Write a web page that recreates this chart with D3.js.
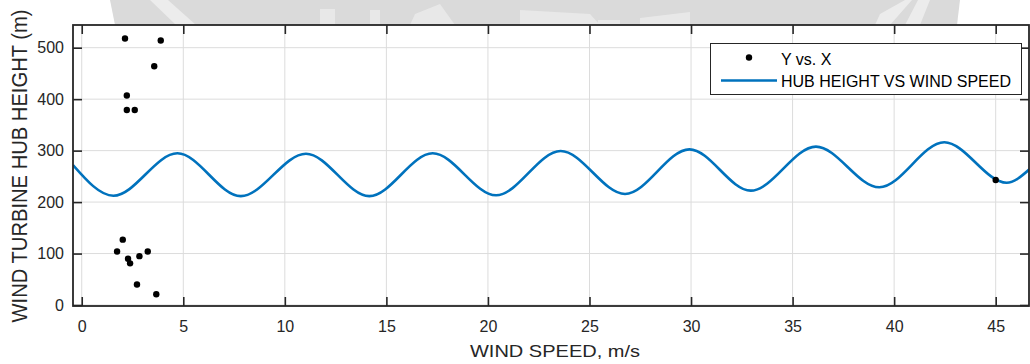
<!DOCTYPE html>
<html>
<head>
<meta charset="utf-8">
<script src="https://cdn.jsdelivr.net/npm/d3@7"></script>
<style>
  body { margin: 0; background: #fff; }
  svg { display: block; font-family: "Liberation Sans", Arial, sans-serif; }
</style>
</head>
<body>
<svg id="chart" width="1030" height="364"></svg>
<script>
// Scatter points (Y vs. X)
const scatterX = [2.13, 3.89, 3.57, 2.22, 2.22, 2.61, 2.02, 1.74, 3.25, 2.28, 2.38, 2.84, 2.72, 3.67, 45.0];
const scatterY = [518, 514, 464, 407, 379, 379, 127, 104, 104, 90, 81, 95, 40, 21, 243];

// Hub height curve, read at its peaks and troughs
const hubX = [-0.43, 1.56, 4.71, 7.83, 11.04, 14.16, 17.28, 20.40, 23.58, 26.75, 29.92, 32.94, 36.15, 39.27, 42.47, 45.54, 46.66];
const hubY = [272, 212.4, 294.8, 211.5, 294, 211.5, 294.8, 213.2, 299.3, 215.7, 302.5, 222.2, 307.7, 228.7, 316.2, 237.7, 263.7];

const xTicks = [0, 5, 10, 15, 20, 25, 30, 35, 40, 45];
const yTicks = [0, 100, 200, 300, 400, 500];
const legendLabels = ['Y vs. X', 'HUB HEIGHT VS WIND SPEED'];

const svg = d3.select('#chart');

// Plot box
const boxLeft = 73;
const boxRight = 1029;
const boxTop = 25;
const boxBottom = 306;

const x = d3.scaleLinear().domain([-0.43, 46.64]).range([boxLeft, boxRight]);
const y = d3.scaleLinear().domain([-1.9, 544.1]).range([boxBottom, boxTop]);

const axisColor = '#262626';
const lineColor = '#0072BD';

// Faint watermark showing above the axes
const mark = svg.append('g');
mark.append('path')
  .attr('d', 'M110,0 L960,0 L957,25 L115,25 Z')
  .attr('fill', '#dadada');
mark.append('path')
  .attr('d', 'M150,0 L168,0 L196,25 L176,25 Z')
  .attr('fill', '#ececec');
mark.append('path')
  .attr('d', 'M320,9 L335,9 L335,25 L320,25 Z M370,10 L380,10 L380,25 L370,25 Z M415,14 L440,4 L455,25 L410,25 Z')
  .attr('fill', '#e8e8e8');
mark.append('path')
  .attr('d', 'M520,10 L590,14 L600,25 L520,25 Z M598,20 L620,20 L620,25 L598,25 Z M640,18 L690,12 L690,25 L640,25 Z')
  .attr('fill', '#e8e8e8');
mark.append('path')
  .attr('d', 'M880,14 L905,0 L912,0 L890,25 L875,25 Z M918,0 L930,0 L920,25 L905,25 Z')
  .attr('fill', '#ececec');

// Axes background
svg.append('rect')
  .attr('x', boxLeft)
  .attr('y', boxTop)
  .attr('width', boxRight - boxLeft)
  .attr('height', boxBottom - boxTop)
  .attr('fill', '#fff');

// Grid
const grid = svg.append('g').attr('stroke', '#dcdcdc').attr('stroke-width', 1);
grid.selectAll('.gx').data(xTicks).join('line')
  .attr('x1', d => x(d)).attr('x2', d => x(d))
  .attr('y1', boxTop).attr('y2', boxBottom);
grid.selectAll('.gy').data(yTicks).join('line')
  .attr('x1', boxLeft).attr('x2', boxRight)
  .attr('y1', d => y(d)).attr('y2', d => y(d));

svg.append('clipPath').attr('id', 'clip')
  .append('rect')
  .attr('x', boxLeft).attr('y', boxTop)
  .attr('width', boxRight - boxLeft).attr('height', boxBottom - boxTop);

// Curve
const hub = hubX.map((d, i) => [d, hubY[i]]);
const line = d3.line()
  .x(d => x(d[0]))
  .y(d => y(d[1]))
  .curve(d3.curveMonotoneX);

svg.append('path')
  .datum(hub)
  .attr('clip-path', 'url(#clip)')
  .attr('fill', 'none')
  .attr('stroke', lineColor)
  .attr('stroke-width', 2.6)
  .attr('d', line);

// Points
svg.append('g').selectAll('circle')
  .data(scatterX.map((d, i) => [d, scatterY[i]]))
  .join('circle')
  .attr('cx', d => x(d[0]))
  .attr('cy', d => y(d[1]))
  .attr('r', 3.2)
  .attr('fill', '#000');

// Axes: ticks point inward on all four sides
const tickLen = 9;
const styleAxis = (g) => {
  g.select('.domain').remove();
  g.selectAll('.tick line').attr('stroke', axisColor).attr('stroke-width', 1.6);
  g.selectAll('.tick text')
    .attr('fill', axisColor)
    .attr('font-size', 16);
};

svg.append('g')
  .attr('transform', `translate(0,${boxBottom})`)
  .call(d3.axisBottom(x).tickValues(xTicks).tickSize(-tickLen).tickPadding(15))
  .call(styleAxis);

svg.append('g')
  .attr('transform', `translate(0,${boxTop})`)
  .call(d3.axisTop(x).tickValues(xTicks).tickSize(-tickLen).tickFormat(''))
  .call(styleAxis);

svg.append('g')
  .attr('transform', `translate(${boxLeft},0)`)
  .call(d3.axisLeft(y).tickValues(yTicks).tickSize(-tickLen).tickPadding(9))
  .call(styleAxis);

svg.append('g')
  .attr('transform', `translate(${boxRight},0)`)
  .call(d3.axisRight(y).tickValues(yTicks).tickSize(-tickLen).tickFormat(''))
  .call(styleAxis);

// Box
svg.append('rect')
  .attr('x', boxLeft).attr('y', boxTop)
  .attr('width', boxRight - boxLeft).attr('height', boxBottom - boxTop)
  .attr('fill', 'none')
  .attr('stroke', axisColor)
  .attr('stroke-width', 1.8);

// Axis labels
svg.append('text')
  .attr('x', 555)
  .attr('y', 357)
  .attr('text-anchor', 'middle')
  .attr('fill', axisColor)
  .attr('font-size', 17)
  .attr('textLength', 170)
  .attr('lengthAdjust', 'spacingAndGlyphs')
  .text('WIND SPEED, m/s');

svg.append('text')
  .attr('transform', `translate(27,166) rotate(-90) scale(1,1.12)`)
  .attr('text-anchor', 'middle')
  .attr('fill', axisColor)
  .attr('font-size', 20)
  .attr('textLength', 313)
  .attr('lengthAdjust', 'spacingAndGlyphs')
  .text('WIND TURBINE HUB HEIGHT (m)');

// Legend
const legend = svg.append('g');
legend.append('rect')
  .attr('x', 710.5).attr('y', 43.5)
  .attr('width', 311).attr('height', 51)
  .attr('fill', '#fff')
  .attr('stroke', axisColor)
  .attr('stroke-width', 1);

legend.append('circle')
  .attr('cx', 749).attr('cy', 57.5).attr('r', 3.2).attr('fill', '#000');
legend.append('line')
  .attr('x1', 721).attr('x2', 777)
  .attr('y1', 80.5).attr('y2', 80.5)
  .attr('stroke', lineColor)
  .attr('stroke-width', 2.6);

legend.selectAll('.label').data(legendLabels).join('text')
  .attr('x', 781)
  .attr('y', (d, i) => 64.5 + i * 22.2)
  .attr('fill', '#000')
  .attr('font-size', 16)
  .text(d => d);
</script>
</body>
</html>
